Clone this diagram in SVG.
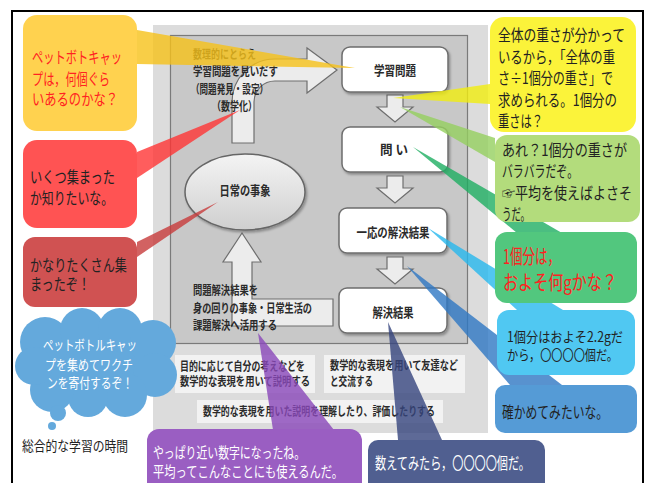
<svg xmlns="http://www.w3.org/2000/svg" width="649" height="483" viewBox="0 0 649 483">
<defs>
<style>
text{font-family:"Noto Sans CJK JP","Noto Sans",sans-serif;}
.b{font-weight:700;fill:#2a2a2a;font-size:12px;}
.lbl{font-weight:700;fill:#2a2a2a;font-size:13px;}
.box{fill:#ffffff;stroke:#6e6e6e;stroke-width:1.5;}
.darr{fill:#ececec;stroke:#6e6e6e;stroke-width:1.2;}
.tb{fill:#f2f2f2;}
.bt{font-size:16px;fill:#222;}
.wt{fill:#ffffff;}
</style>
<linearGradient id="eg" x1="0" y1="0" x2="0" y2="1">
<stop offset="0" stop-color="#f4f4f4"/>
<stop offset="1" stop-color="#cfcfcf"/>
</linearGradient>
<filter id="sh" x="-10%" y="-10%" width="130%" height="140%">
<feDropShadow dx="1.5" dy="2" stdDeviation="1.2" flood-color="#000" flood-opacity="0.3"/>
</filter>
</defs>
<rect width="649" height="483" fill="#ffffff"/>
<rect x="12" y="11" width="631" height="490" fill="none" stroke="#000" stroke-width="2"/>

<g id="panel">
<rect x="153" y="25" width="335" height="408" fill="#dcdcdc"/>
<rect x="170.5" y="35.5" width="297" height="308" fill="#c8c8c8" stroke="#7a7a7a" stroke-width="1.2"/>
</g>

<g id="flow-arrows">
<path class="darr" d="M232 143 L232 102 A43 43 0 0 1 275 59 L307 59 L307 48 L337 70 L307 93 L307 81 L275 81 A21 21 0 0 0 254 102 L254 143 Z"/>
<path class="darr" d="M242 233 L261 262 L252 262 L252 299 L333 299 L333 326 L232 326 L232 262 L223 262 Z"/>
<path class="darr" d="M387 95 L403 95 L403 107 L413 107 L395 122 L377 107 L387 107 Z"/>
<path class="darr" d="M387 176 L403 176 L403 188 L413 188 L395 203 L377 188 L387 188 Z"/>
<path class="darr" d="M387 257 L403 257 L403 269 L413 269 L395 284 L377 269 L387 269 Z"/>
</g>

<g id="flow-text">
<text class="b" x="193" y="59" textLength="63" lengthAdjust="spacingAndGlyphs">数理的にとらえ</text>
<text class="b" x="193" y="76" textLength="85" lengthAdjust="spacingAndGlyphs">学習問題を見いだす</text>
<text class="b" x="191" y="94" textLength="77" lengthAdjust="spacingAndGlyphs">（問題発見・設定）</text>
<text class="b" x="212" y="111" textLength="45" lengthAdjust="spacingAndGlyphs">（数学化）</text>
<text class="b" x="193" y="295" textLength="65" lengthAdjust="spacingAndGlyphs">問題解決結果を</text>
<text class="b" x="193" y="313" textLength="119" lengthAdjust="spacingAndGlyphs">身の回りの事象・日常生活の</text>
<text class="b" x="193" y="330" textLength="84" lengthAdjust="spacingAndGlyphs">課題解決へ活用する</text>
</g>

<g id="node-gakushu-mondai">
<rect class="box" x="342" y="47" width="106" height="45" rx="8" filter="url(#sh)"/>
<text class="lbl" x="395" y="75" text-anchor="middle" textLength="42" lengthAdjust="spacingAndGlyphs">学習問題</text>
</g>
<g id="node-toi">
<rect class="box" x="342" y="127" width="106" height="45" rx="8" filter="url(#sh)"/>
<text class="lbl" x="394" y="154" text-anchor="middle" textLength="28" lengthAdjust="spacingAndGlyphs">問 い</text>
</g>
<g id="node-ichiou">
<rect class="box" x="339" y="208" width="108" height="45" rx="8" filter="url(#sh)"/>
<text class="lbl" x="393" y="237" text-anchor="middle" textLength="73" lengthAdjust="spacingAndGlyphs">一応の解決結果</text>
</g>
<g id="node-kaiketsu">
<rect class="box" x="339" y="288" width="108" height="45" rx="8" filter="url(#sh)"/>
<text class="lbl" x="393" y="317" text-anchor="middle" textLength="41" lengthAdjust="spacingAndGlyphs">解決結果</text>
</g>
<g id="node-nichijou">
<ellipse cx="245" cy="192" rx="60" ry="38" fill="url(#eg)" stroke="#666" stroke-width="1.5" filter="url(#sh)"/>
<text class="lbl" x="245" y="195" text-anchor="middle" textLength="51" lengthAdjust="spacingAndGlyphs">日常の事象</text>
</g>

<g id="bottom-boxes">
<rect class="tb" x="175" y="355" width="140" height="38"/>
<text class="b" x="180" y="371" textLength="125" lengthAdjust="spacingAndGlyphs">目的に応じて自分の考えなどを</text>
<text class="b" x="180" y="386" textLength="130" lengthAdjust="spacingAndGlyphs">数学的な表現を用いて説明する</text>
<rect class="tb" x="324" y="355" width="141" height="38"/>
<text class="b" x="330" y="370" textLength="128" lengthAdjust="spacingAndGlyphs">数学的な表現を用いて友達など</text>
<text class="b" x="330" y="386" textLength="43" lengthAdjust="spacingAndGlyphs">と交流する</text>
<rect class="tb" x="197" y="400" width="246" height="23"/>
<text class="b" x="203" y="416" textLength="232" lengthAdjust="spacingAndGlyphs">数学的な表現を用いた説明を理解したり、評価したりする</text>
</g>

<g id="connectors" opacity="0.8">
<polygon points="137,30 137,64 355,68" fill="#f7c21a"/>
<polygon points="137,152 137,178 240,110" fill="#ff3535"/>
<polygon points="137,242 137,257 218,202" fill="#c83c3c"/>
<polygon points="490,84 490,104 393,98" fill="#f2ee10"/>
<polygon points="400,107 495,138 495,162" fill="#96d060"/>
<polygon points="413,147 517,233 562,233" fill="#1fae62"/>
<polygon points="428,228 517,310 563,310" fill="#28b8ee"/>
<polygon points="407,266 510,385 562,385" fill="#2f78c4"/>
<polygon points="258,333 273,430 334,430" fill="#8a48ba"/>
<polygon points="388,322 398,440 442,440" fill="#36457e"/>
</g>

<g id="bubble-cap">
<rect x="23" y="15" width="114" height="116" rx="14" fill="#ffd24f"/>
<text class="bt" x="32" y="63" style="fill:#ff2222" textLength="90" lengthAdjust="spacingAndGlyphs">ペットボトキャッ</text>
<text class="bt" x="32" y="85" style="fill:#ff2222" textLength="78" lengthAdjust="spacingAndGlyphs">プは，何個ぐら</text>
<text class="bt" x="32" y="105" style="fill:#ff2222" textLength="86" lengthAdjust="spacingAndGlyphs">いあるのかな？</text>
</g>
<g id="bubble-ikutsu">
<rect x="23" y="140" width="114" height="88" rx="14" fill="#ff5353"/>
<text class="bt" x="30" y="183" textLength="85" lengthAdjust="spacingAndGlyphs">いくつ集まった</text>
<text class="bt" x="30" y="204" textLength="83" lengthAdjust="spacingAndGlyphs">か知りたいな。</text>
</g>
<g id="bubble-kanari">
<rect x="23" y="237" width="114" height="70" rx="12" fill="#d05252"/>
<text class="bt" x="30" y="271" textLength="97" lengthAdjust="spacingAndGlyphs">かなりたくさん集</text>
<text class="bt" x="30" y="290" textLength="60" lengthAdjust="spacingAndGlyphs">まったぞ！</text>
</g>
<g id="bubble-cloud" fill="#64a9dc">
<ellipse cx="96" cy="362" rx="72" ry="40"/>
<circle cx="45" cy="342" r="25"/>
<circle cx="82" cy="330" r="22"/>
<circle cx="120" cy="330" r="22"/>
<circle cx="153" cy="343" r="23"/>
<circle cx="155" cy="375" r="22"/>
<circle cx="125" cy="395" r="22"/>
<circle cx="88" cy="397" r="20"/>
<circle cx="52" cy="390" r="22"/>
<circle cx="34" cy="366" r="19"/>
<circle cx="58" cy="413" r="8"/>
<circle cx="52" cy="426" r="4"/>
<text class="wt" x="43" y="350" font-size="14" textLength="94" lengthAdjust="spacingAndGlyphs">ペットボトルキャッ</text>
<text class="wt" x="45" y="370" font-size="14" textLength="88" lengthAdjust="spacingAndGlyphs">プを集めてワクチ</text>
<text class="wt" x="47" y="388" font-size="14" textLength="86" lengthAdjust="spacingAndGlyphs">ンを寄付するぞ！</text>
</g>
<g id="label-sougou">
<text x="22" y="451" font-size="14" fill="#222" textLength="106" lengthAdjust="spacingAndGlyphs">総合的な学習の時間</text>
</g>

<g id="bubble-zentai">
<rect x="490" y="17" width="146" height="115" rx="14" fill="#fbf33a"/>
<text class="bt" x="498" y="41" textLength="127" lengthAdjust="spacingAndGlyphs">全体の重さが分かって</text>
<text class="bt" x="498" y="63" textLength="117" lengthAdjust="spacingAndGlyphs">いるから，「全体の重</text>
<text class="bt" x="498" y="84" textLength="115" lengthAdjust="spacingAndGlyphs">さ÷1個分の重さ」で</text>
<text class="bt" x="498" y="106" textLength="119" lengthAdjust="spacingAndGlyphs">求められる。1個分の</text>
<text class="bt" x="498" y="127" textLength="45" lengthAdjust="spacingAndGlyphs">重さは？</text>
</g>
<g id="bubble-are">
<rect x="495" y="135" width="145" height="87" rx="12" fill="#b3dc7c"/>
<text class="bt" x="502" y="156" textLength="125" lengthAdjust="spacingAndGlyphs">あれ？1個分の重さが</text>
<text class="bt" x="502" y="177" textLength="76" lengthAdjust="spacingAndGlyphs">バラバラだぞ。</text>
<text class="bt" x="502" y="199" textLength="130" lengthAdjust="spacingAndGlyphs">☞平均を使えばよさそ</text>
<text class="bt" x="502" y="220" textLength="28" lengthAdjust="spacingAndGlyphs">うだ。</text>
</g>
<g id="bubble-oyoso">
<rect x="495" y="232" width="142" height="71" rx="12" fill="#52c77e"/>
<text x="503" y="264" font-size="20" fill="#ff2222" textLength="57" lengthAdjust="spacingAndGlyphs">1個分は，</text>
<text x="503" y="290" font-size="20" fill="#ff2222" textLength="114" lengthAdjust="spacingAndGlyphs">およそ何gかな？</text>
</g>
<g id="bubble-22g">
<rect x="497" y="310" width="138" height="65" rx="12" fill="#50c8f2"/>
<text x="507" y="342" font-size="14" fill="#222" textLength="116" lengthAdjust="spacingAndGlyphs">1個分はおよそ2.2gだ</text>
<text x="507" y="360" font-size="14" fill="#222" textLength="111" lengthAdjust="spacingAndGlyphs">から，〇〇〇〇個だ。</text>
</g>
<g id="bubble-tashikame">
<rect x="495" y="385" width="142" height="48" rx="10" fill="#559bd6"/>
<text class="bt" x="502" y="418" textLength="106" lengthAdjust="spacingAndGlyphs">確かめてみたいな。</text>
</g>
<g id="bubble-yappari">
<rect x="147" y="429" width="215" height="70" rx="12" fill="#9a5ec2"/>
<text class="wt" x="153" y="458" font-size="15" textLength="152" lengthAdjust="spacingAndGlyphs">やっぱり近い数字になったね。</text>
<text class="wt" x="153" y="477" font-size="15" textLength="190" lengthAdjust="spacingAndGlyphs">平均ってこんなことにも使えるんだ。</text>
</g>
<g id="bubble-kazoete">
<rect x="368" y="440" width="177" height="60" rx="10" fill="#505f90"/>
<text class="wt" x="375" y="469" font-size="16" textLength="155" lengthAdjust="spacingAndGlyphs">数えてみたら，〇〇〇〇個だ。</text>
</g>
</svg>
